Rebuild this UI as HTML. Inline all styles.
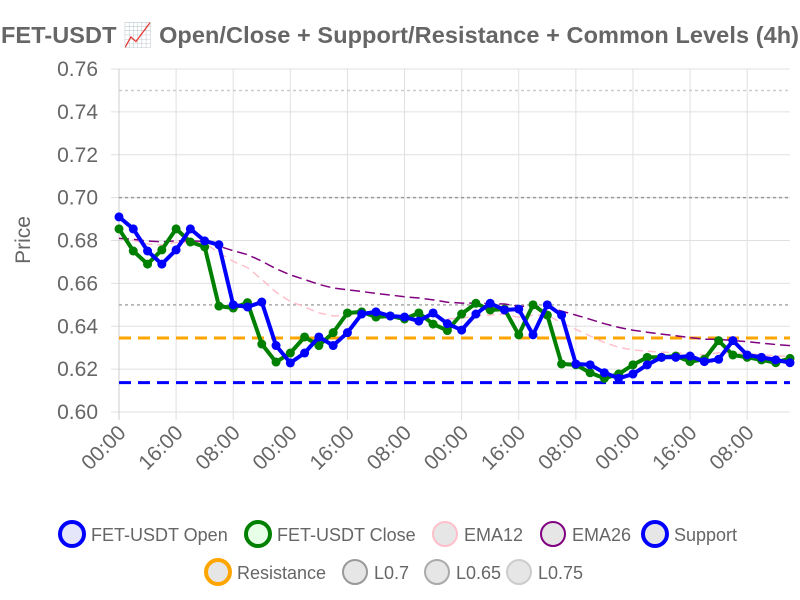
<!DOCTYPE html>
<html><head><meta charset="utf-8"><style>
html,body{margin:0;padding:0;background:#fff;}
svg{display:block;font-family:"Liberation Sans",sans-serif;}
</style></head><body>
<svg id="chart" width="800" height="600">
<text x="400" y="43" text-anchor="middle" font-size="23.5" font-weight="bold" fill="#666" textLength="798">FET-USDT 📈 Open/Close + Support/Resistance + Common Levels (4h)</text>
<text transform="translate(30,240) rotate(-90)" text-anchor="middle" font-size="21" fill="#666">Price</text>
<g id="grid"></g><g id="levels"></g><g id="series"></g><g id="axes"></g><g id="legend"></g>
</svg>
<script>
const opens=[0.691,0.6854,0.6751,0.669,0.6756,0.6854,0.6798,0.678,0.650,0.649,0.6513,0.631,0.6229,0.6275,0.635,0.631,0.637,0.6457,0.6467,0.6448,0.6443,0.6424,0.6462,0.6412,0.6382,0.6457,0.6507,0.6476,0.648,0.636,0.650,0.6452,0.6224,0.622,0.6183,0.6157,0.6177,0.622,0.6255,0.6255,0.6261,0.6235,0.6246,0.6333,0.6266,0.6255,0.6243,0.623];
const closes=[0.6854,0.6751,0.669,0.6756,0.6854,0.6793,0.677,0.6494,0.6485,0.651,0.6317,0.6233,0.6275,0.635,0.631,0.637,0.6462,0.6467,0.6443,0.6448,0.6434,0.6462,0.641,0.638,0.6457,0.6507,0.6476,0.648,0.636,0.650,0.6452,0.6224,0.622,0.6183,0.6157,0.6177,0.622,0.6255,0.6255,0.6261,0.6235,0.6246,0.6333,0.6266,0.6255,0.6243,0.623,0.625];
const tickLabels=["00:00","16:00","08:00","00:00","16:00","08:00","00:00","16:00","08:00","00:00","16:00","08:00"];
const yTicks=[0.60,0.62,0.64,0.66,0.68,0.70,0.72,0.74,0.76];
const supportLevel=0.6137, resistanceLevel=0.6345;
const commonLevels=[0.7,0.65,0.75];
const emaSeed=0.681;
const NS="http://www.w3.org/2000/svg";
const X0=119,X1=790,Y0=412,Y1=69;
function xs(i){return X0+(X1-X0)*i/(opens.length-1);}
function ys(v){return Y0-(v-0.60)/(0.76-0.60)*(Y0-Y1);}
function mk(tag,attrs,parent){const e=document.createElementNS(NS,tag);for(const k in attrs)e.setAttribute(k,attrs[k]);parent.appendChild(e);return e;}
function ema(arr,n){const a=2/(n+1);let e=emaSeed;return arr.map((v,i)=>{e=i===0?emaSeed:a*v+(1-a)*e;return e;});}
const ema12=ema(closes,12), ema26=ema(closes,26);
const grid=document.getElementById('grid'),axes=document.getElementById('axes'),lv=document.getElementById('levels'),ser=document.getElementById('series'),lg=document.getElementById('legend');
yTicks.forEach(t=>{const y=ys(t);
 const l=mk('line',{x1:X0-8,x2:X1,y1:y,y2:y,stroke:'#e0e0e0','stroke-width':1},grid);
 
 
 const tx=mk('text',{x:X0-21,y:y+7,'text-anchor':'end','font-size':21,fill:'#666'},axes);tx.textContent=t.toFixed(2);
 
 
});
tickLabels.forEach((lab,k)=>{const x=xs(k*4);
 const l=mk('line',{x1:x,x2:x,y1:Y1,y2:Y0+8,stroke:k===0?'#ccc':'#e0e0e0','stroke-width':1},grid);
 
 
 const tx=mk('text',{x:0,y:0,'text-anchor':'end','font-size':21,fill:'#666',transform:`translate(${x+8},${Y0+22}) rotate(-45)`},axes);tx.textContent=lab;
 
 
});
function hline(v,color,w,dash,name){const y=ys(v);const l=mk('line',{x1:X0,x2:X1,y1:y,y2:y,stroke:color,'stroke-width':w,'stroke-dasharray':dash},lv);
 
 }
hline(commonLevels[0],'#999',1.5,'3,3','level-0-7');
hline(commonLevels[1],'#aaa',1.5,'3,3','level-0-65');
hline(commonLevels[2],'#ccc',1.5,'3,3','level-0-75');
hline(supportLevel,'#0000ff',3,'12,7','support-line');
hline(resistanceLevel,'#ffa500',3,'12,7','resistance-line');
function path(arr){return arr.map((v,i)=>(i?'L':'M')+xs(i).toFixed(1)+','+ys(v).toFixed(1)).join(' ');}
const e12=mk('path',{d:path(ema12),fill:'none',stroke:'#ffc0cb','stroke-width':1.5,'stroke-dasharray':'8,5'},ser);


const e26=mk('path',{d:path(ema26),fill:'none',stroke:'#800080','stroke-width':1.5,'stroke-dasharray':'10,5'},ser);


function series(arr,color,name){
 const p=mk('path',{d:path(arr),fill:'none',stroke:color,'stroke-width':4,'stroke-linejoin':'round'},ser);
 
 
 arr.forEach((v,i)=>{const c=mk('circle',{cx:xs(i),cy:ys(v),r:4.5,fill:color},ser);
  
  });
}
series(closes,'#008000','close');
series(opens,'#0000ff','open');
const items=[
 [72,534,'#0000ff','#e6e6fa',4,'FET-USDT Open','legend-open'],
 [258,534,'#008000','#e6ffe6',4,'FET-USDT Close','legend-close'],
 [445,534,'#ffc0cb','#e6e6e6',2,'EMA12','legend-ema12'],
 [553,534,'#800080','#e6e6e6',2,'EMA26','legend-ema26'],
 [655,534,'#0000ff','#e6e6e6',4,'Support','legend-support'],
 [218,572,'#ffa500','#e6e6e6',4,'Resistance','legend-resistance'],
 [355,572,'#999','#e6e6e6',2,'L0.7','legend-l07'],
 [437,572,'#aaa','#e6e6e6',2,'L0.65','legend-l065'],
 [519,572,'#ccc','#e6e6e6',2,'L0.75','legend-l075']];
items.forEach(it=>{const g=mk('g',{},lg);
 
 
 mk('circle',{cx:it[0],cy:it[1],r:12,fill:it[3],stroke:it[2],'stroke-width':it[4]},g);
 const t=mk('text',{x:it[0]+19,y:it[1]+7,'font-size':18,fill:'#666'},g);t.textContent=it[5];});
</script>
</body></html>
